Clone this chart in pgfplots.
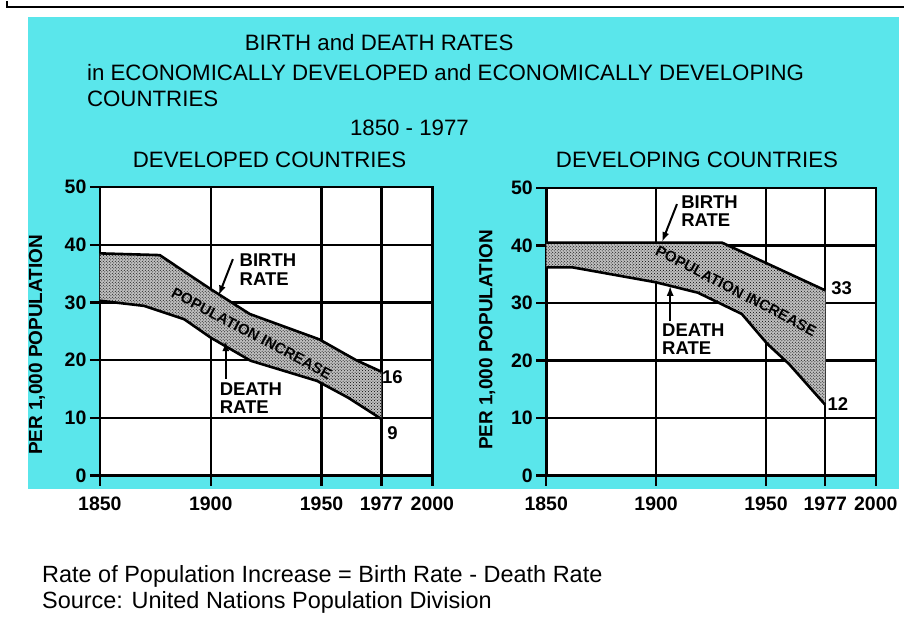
\documentclass[border=0pt]{standalone}
\usepackage{fontspec}
\setmainfont{Liberation Sans}
\usepackage{pgfplots}
\pgfplotsset{compat=1.18}
\usetikzlibrary{arrows.meta,patterns}
\definecolor{cyanbg}{RGB}{90,230,235}
\newcommand{\fs}[1]{\fontsize{#1}{#1}\selectfont}

\pgfplotstableread{
year birth
1850 38.5
1877 38.2
1900 32.3
1917.6 28.0
1949 23.6
1965.6 20.0
1977 18.0
}\devbirth
\pgfplotstableread{
year death
1850 30.3
1870 29.4
1888 27.1
1900 23.9
1918 19.9
1948 16.4
1962 13.5
1977 9.8
}\devdeath
% band outline: birth forward, death backward
\pgfplotstableread{
year rate
1850 38.5
1877 38.2
1900 32.3
1917.6 28.0
1949 23.6
1965.6 20.0
1977 18.0
1977 9.8
1962 13.5
1948 16.4
1918 19.9
1900 23.9
1888 27.1
1870 29.4
1850 30.3
}\devband
\pgfplotstableread{
year birth
1850 40.5
1930 40.5
1977 32.2
}\dgbirth
\pgfplotstableread{
year death
1850 36.2
1862 36.2
1900 33.6
1919 31.8
1939 28.1
1950.6 22.9
1960.5 19.4
1977 12.3
}\dgdeath
\pgfplotstableread{
year rate
1850 40.5
1930 40.5
1977 32.2
1977 12.3
1960.5 19.4
1950.6 22.9
1939 28.1
1919 31.8
1900 33.6
1862 36.2
1850 36.2
}\dgband

\tikzset{
  rateline/.style={black, line width=2.6pt},
  bandfill/.style={fill=black!25, draw=none},
  band/.style={pattern=crosshatch dots, pattern color=black, draw=none},
  ann/.style={font=\bfseries\fs{18.5}, align=left, inner sep=0pt},
  arr/.style={line width=2pt, -{Latex[length=10pt,width=7pt]}},
}
\pgfplotsset{
  panel/.style={
    scale only axis, anchor=south west,
    xmin=1850, xmax=2000, ymin=0, ymax=50,
    xtick={1850,1900,1950,1977,2000},
    xticklabels={1850,1900,1950,1977,2000},
    ytick={0,10,20,30,40,50},
    grid=major,
    grid style={black, line width=2.4pt},
    major grid style={black, line width=2.4pt},
    axis line style={black, line width=2.6pt},
    tick style={black, line width=2.4pt},
    tick align=outside, major tick length=10pt,
    xtick pos=left, ytick pos=left,
    axis background/.style={fill=white},
    ticklabel style={font=\bfseries\fs{19.5}},
    xticklabel style={yshift=-8pt},
    /pgf/number format/assume math mode=true,
    label style={font=\bfseries\fs{19}},
    ylabel={PER 1,000 POPULATION},
    clip=false,
  },
}

\begin{document}
\begin{tikzpicture}
\fill[white] (0,0) rectangle (905pt,631pt);
\fill[cyanbg] (28pt,143pt) rectangle (900pt,615pt);
\draw[line width=2.5pt] (7pt,631pt) -- (7pt,625pt) -- (905pt,625pt);

\node[anchor=west, font=\fs{22.3}, inner sep=0pt] at (245pt,590pt) {BIRTH and DEATH RATES};
\node[anchor=west, font=\fs{22.3}, inner sep=0pt] at (87pt,560pt) {in ECONOMICALLY DEVELOPED and ECONOMICALLY DEVELOPING};
\node[anchor=west, font=\fs{22.3}, inner sep=0pt] at (87pt,533pt) {COUNTRIES};
\node[font=\fs{22.3}, inner sep=0pt] at (410pt,504pt) {1850 - 1977};
\node[font=\fs{22.3}, inner sep=0pt] at (270pt,472pt) {DEVELOPED COUNTRIES};
\node[font=\fs{22.3}, inner sep=0pt] at (698pt,472pt) {DEVELOPING COUNTRIES};

\node[anchor=west, font=\fs{23.5}, inner sep=0pt] at (42pt,55pt) {Rate of Population Increase = Birth Rate - Death Rate};
\node[anchor=west, font=\fs{23.5}, inner sep=0pt] at (42pt,29pt) {Source: United Nations Population Division};

% Developed
\begin{axis}[panel, at={(100pt,156pt)}, width=333pt, height=289pt,
  ylabel style={at={(axis description cs:-0.189,0.453)}, anchor=center}]
  \addplot[bandfill] table[x=year,y=rate] {\devband};
  \addplot[band] table[x=year,y=rate] {\devband};
  \addplot[rateline] table[x=year,y=birth] {\devbirth};
  \addplot[rateline] table[x=year,y=death] {\devdeath};
  \node[ann, anchor=west] at (axis cs:1913,35.7) {BIRTH\\RATE};
  \draw[arr] (axis cs:1910,37.5) -- (axis cs:1903.6,31.2);
  \node[ann, anchor=west] at (axis cs:1904,13.4) {DEATH\\RATE};
  \draw[arr] (axis cs:1906.8,16.8) -- (axis cs:1906.8,23.3);
  \node[font=\bfseries\fs{15}, rotate=-28, inner sep=0pt] at (axis cs:1918.5,24.6) {POPULATION INCREASE};
  \node[ann] at (axis cs:1982,17) {16};
  \node[ann] at (axis cs:1982,7.3) {9};
\end{axis}

% Developing
\begin{axis}[panel, at={(547pt,156pt)}, width=330pt, height=288pt,
  ylabel style={at={(axis description cs:-0.179,0.472)}, anchor=center}]
  \addplot[bandfill] table[x=year,y=rate] {\dgband};
  \addplot[band] table[x=year,y=rate] {\dgband};
  \addplot[rateline] table[x=year,y=birth] {\dgbirth};
  \addplot[rateline] table[x=year,y=death] {\dgdeath};
  \node[ann, anchor=west] at (axis cs:1911.4,46.0) {BIRTH\\RATE};
  \draw[arr] (axis cs:1909.5,47.2) -- (axis cs:1902.7,40.6);
  \node[ann, anchor=west] at (axis cs:1902.7,23.7) {DEATH\\RATE};
  \draw[arr] (axis cs:1906.4,26.9) -- (axis cs:1906.4,33.0);
  \node[font=\bfseries\fs{15}, rotate=-27.5, inner sep=0pt] at (axis cs:1936.4,32.1) {POPULATION INCREASE};
  \node[ann] at (axis cs:1984.5,32.6) {33};
  \node[ann] at (axis cs:1982.7,12.5) {12};
\end{axis}
\end{tikzpicture}
\end{document}
